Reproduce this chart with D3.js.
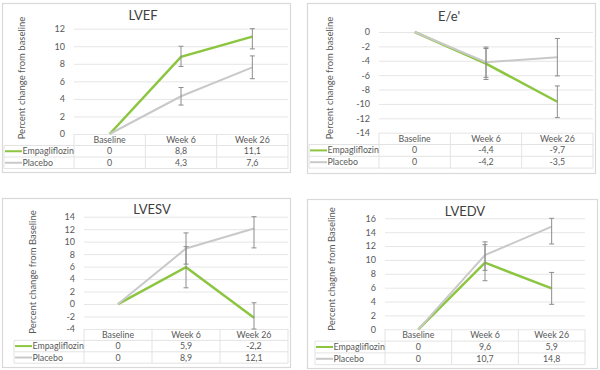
<!DOCTYPE html>
<html>
<head>
<meta charset="utf-8">
<script src="https://cdn.jsdelivr.net/npm/d3@7"></script>
<style>
  body { margin: 0; background: #fff; }
  svg { display: block; font-family: Lato, "Open Sans", sans-serif; }
</style>
</head>
<body>
<div id="chart"></div>
<script>
// categories and series
const categories = ["Baseline", "Week 6", "Week 26"];
const seriesNames = ["Empagliflozin", "Placebo"];

// LVEF
const lvefEmpa = [0, 8.8, 11.1];
const lvefPlacebo = [0, 4.3, 7.6];
const lvefEmpaLow = [null, 7.7, 9.7];
const lvefEmpaHigh = [null, 10.0, 12.0];
const lvefPlaceboLow = [null, 3.3, 6.3];
const lvefPlaceboHigh = [null, 5.3, 8.9];
const lvefTicks = [0, 2, 4, 6, 8, 10, 12];

// E/e'
const eeEmpa = [0, -4.4, -9.7];
const eePlacebo = [0, -4.2, -3.5];
const eeEmpaLow = [null, -6.6, -11.9];
const eeEmpaHigh = [null, -2.3, -7.5];
const eePlaceboLow = [null, -6.3, -6.1];
const eePlaceboHigh = [null, -2.1, -0.9];
const eeTicks = [-14, -12, -10, -8, -6, -4, -2, 0];

// LVESV
const lvesvEmpa = [0, 5.9, -2.2];
const lvesvPlacebo = [0, 8.9, 12.1];
const lvesvEmpaLow = [null, 2.6, -4.6];
const lvesvEmpaHigh = [null, 9.2, 0.2];
const lvesvPlaceboLow = [null, 6.4, 9.0];
const lvesvPlaceboHigh = [null, 11.4, 14.0];
const lvesvTicks = [-4, -2, 0, 2, 4, 6, 8, 10, 12, 14];

// LVEDV
const lvedvEmpa = [0, 9.6, 5.9];
const lvedvPlacebo = [0, 10.7, 14.8];
const lvedvEmpaLow = [null, 7.0, 3.6];
const lvedvEmpaHigh = [null, 12.2, 8.2];
const lvedvPlaceboLow = [null, 8.5, 12.3];
const lvedvPlaceboHigh = [null, 12.6, 16.0];
const lvedvTicks = [0, 2, 4, 6, 8, 10, 12, 14, 16];

const colours = ["#8cc540", "#c9c9c9"];
const textColour = "#595959";

const panels = [
    {
        title: "LVEF", yTitle: "Percent change from baseline",
        series: [
            { values: lvefEmpa, low: lvefEmpaLow, high: lvefEmpaHigh },
            { values: lvefPlacebo, low: lvefPlaceboLow, high: lvefPlaceboHigh },
        ],
        ticks: lvefTicks,
        box: [2, 3, 290, 172], plot: { l: 74, r: 288, t: 28.7, b: 134 }, rowH: 11.5,
        titlePos: [143, 20], yTitlePos: [22, 78],
    },
    {
        title: "E/e'", yTitle: "Percent change from baseline",
        series: [
            { values: eeEmpa, low: eeEmpaLow, high: eeEmpaHigh },
            { values: eePlacebo, low: eePlaceboLow, high: eePlaceboHigh },
        ],
        ticks: eeTicks,
        box: [307, 3, 595, 173], plot: { l: 379, r: 593, t: 32, b: 132.7 }, rowH: 11.8,
        titlePos: [449, 21], yTitlePos: [330, 78],
    },
    {
        title: "LVESV", yTitle: "Percent change from Baseline",
        series: [
            { values: lvesvEmpa, low: lvesvEmpaLow, high: lvesvEmpaHigh },
            { values: lvesvPlacebo, low: lvesvPlaceboLow, high: lvesvPlaceboHigh },
        ],
        ticks: lvesvTicks,
        box: [2, 198, 290, 367], plot: { l: 84, r: 288, t: 216.7, b: 329 }, rowH: 11.4,
        titlePos: [152, 214], yTitlePos: [33, 272],
    },
    {
        title: "LVEDV", yTitle: "Percent chagne from Baseline",
        series: [
            { values: lvedvEmpa, low: lvedvEmpaLow, high: lvedvEmpaHigh },
            { values: lvedvPlacebo, low: lvedvPlaceboLow, high: lvedvPlaceboHigh },
        ],
        ticks: lvedvTicks,
        box: [307, 199, 597, 368], plot: { l: 385, r: 585, t: 218.3, b: 329.3 }, rowH: 11.8,
        titlePos: [465, 216], yTitlePos: [332, 269],
    },
];

const fmt = v => String(v).replace(".", ",");

const svg = d3.select("#chart")
    .append("svg")
    .attr("width", 600)
    .attr("height", 370);

function drawPanel(p) {
    const g = svg.append("g");
    const [bx0, by0, bx1, by1] = p.box;

    // frame
    g.append("rect")
        .attr("x", bx0 + 0.5).attr("y", by0 + 0.5)
        .attr("width", bx1 - bx0).attr("height", by1 - by0)
        .attr("fill", "#fff")
        .attr("stroke", "#d9d9d9")
        .attr("stroke-width", 1.2);

    const x = d3.scaleBand().domain(categories).range([p.plot.l, p.plot.r]).padding(0);
    const cx = d => x(d) + x.bandwidth() / 2;
    const y = d3.scaleLinear()
        .domain(d3.extent(p.ticks))
        .range([p.plot.b, p.plot.t])
        .clamp(true);

    // grid + y labels
    const yAxis = g.append("g")
        .attr("transform", `translate(${p.plot.l},0)`)
        .call(d3.axisLeft(y).tickValues(p.ticks).tickSize(-(p.plot.r - p.plot.l)).tickPadding(9).tickFormat(d => d));
    yAxis.select(".domain").remove();
    yAxis.selectAll(".tick line").attr("stroke", "#e6e6e6");
    yAxis.selectAll(".tick text")
        .attr("fill", textColour)
        .style("font-size", "9px")
        .style("font-family", "Lato, sans-serif");

    // data table
    const legendStart = p.plot.l - 70;
    const rowsY = [p.plot.b, p.plot.b + p.rowH, p.plot.b + 2 * p.rowH, p.plot.b + 3 * p.rowH];
    const tbl = g.append("g").attr("stroke", "#e3e3e3").attr("stroke-width", 1);
    tbl.append("line").attr("x1", legendStart).attr("x2", p.plot.r).attr("y1", rowsY[1]).attr("y2", rowsY[1]);
    tbl.append("line").attr("x1", legendStart).attr("x2", p.plot.r).attr("y1", rowsY[2]).attr("y2", rowsY[2]);
    tbl.append("line").attr("x1", legendStart).attr("x2", p.plot.r).attr("y1", rowsY[3]).attr("y2", rowsY[3]);
    tbl.append("line").attr("x1", legendStart).attr("x2", legendStart).attr("y1", rowsY[1]).attr("y2", rowsY[3]);
    const colEdges = categories.map(c => x(c)).concat([p.plot.r]);
    tbl.selectAll(".col")
        .data(colEdges)
        .enter()
        .append("line")
        .attr("x1", d => d).attr("x2", d => d)
        .attr("y1", rowsY[0]).attr("y2", rowsY[3]);

    // header labels
    g.selectAll(".hdr")
        .data(categories)
        .enter()
        .append("text")
        .attr("x", d => cx(d))
        .attr("y", rowsY[0] + p.rowH / 2)
        .attr("dy", "0.35em")
        .attr("text-anchor", "middle")
        .attr("fill", textColour)
        .style("font-size", "8.8px")
        .text(d => d);

    // rows
    p.series.forEach((s, i) => {
        const rowMid = rowsY[i + 1] + p.rowH / 2;
        g.append("line")
            .attr("x1", legendStart + 1).attr("x2", legendStart + 18)
            .attr("y1", rowMid).attr("y2", rowMid)
            .attr("stroke", colours[i])
            .attr("stroke-width", 2);
        g.append("text")
            .attr("x", legendStart + 18.5)
            .attr("y", rowMid)
            .attr("dy", "0.35em")
            .attr("fill", textColour)
            .style("font-size", "8.8px")
            .text(seriesNames[i]);
        g.selectAll(".val" + i)
            .data(s.values)
            .enter()
            .append("text")
            .attr("x", (d, j) => cx(categories[j]))
            .attr("y", rowMid)
            .attr("dy", "0.35em")
            .attr("text-anchor", "middle")
            .attr("fill", textColour)
            .style("font-size", "8.8px")
            .text(d => fmt(d));
    });

    // lines
    const line = d3.line()
        .x((d, j) => cx(categories[j]))
        .y(d => y(d));
    p.series.forEach((s, i) => {
        g.append("path")
            .datum(s.values)
            .attr("fill", "none")
            .attr("stroke", colours[i])
            .attr("stroke-width", i === 0 ? 2.5 : 2)
            .attr("d", line);
    });

    // error bars
    p.series.forEach(s => {
        const eb = categories
            .map((c, j) => ({ c: c, lo: s.low[j], hi: s.high[j] }))
            .filter(d => d.lo !== null);
        const ge = g.append("g").attr("stroke", "#8c8c8c").attr("stroke-width", 1);
        ge.selectAll(".v").data(eb).enter().append("line")
            .attr("x1", d => cx(d.c)).attr("x2", d => cx(d.c))
            .attr("y1", d => y(d.lo)).attr("y2", d => y(d.hi));
        ge.selectAll(".top").data(eb).enter().append("line")
            .attr("x1", d => cx(d.c) - 2.5).attr("x2", d => cx(d.c) + 2.5)
            .attr("y1", d => y(d.hi)).attr("y2", d => y(d.hi));
        ge.selectAll(".bot").data(eb).enter().append("line")
            .attr("x1", d => cx(d.c) - 2.5).attr("x2", d => cx(d.c) + 2.5)
            .attr("y1", d => y(d.lo)).attr("y2", d => y(d.lo));
    });

    // titles
    g.append("text")
        .attr("x", p.titlePos[0])
        .attr("y", p.titlePos[1])
        .attr("text-anchor", "middle")
        .attr("fill", "#404040")
        .style("font-size", "13px")
        .text(p.title);

    g.append("text")
        .attr("transform", `translate(${p.yTitlePos[0]},${p.yTitlePos[1]}) rotate(-90)`)
        .attr("text-anchor", "middle")
        .attr("dy", "0.35em")
        .attr("fill", textColour)
        .style("font-size", "9.5px")
        .text(p.yTitle);
}

panels.forEach(drawPanel);
</script>
</body>
</html>
